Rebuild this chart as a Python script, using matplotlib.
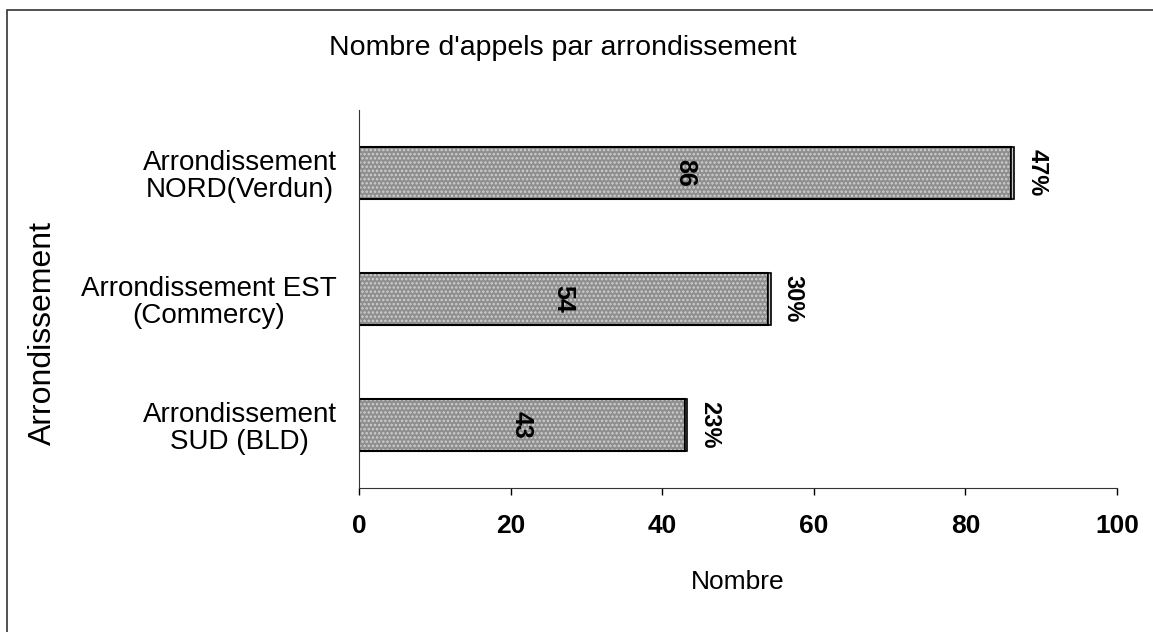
import numpy as np
import matplotlib.pyplot as plt
from matplotlib.patches import Rectangle

plt.rcParams['font.family'] = ['Liberation Sans', 'DejaVu Sans']
plt.rcParams['hatch.linewidth'] = 1.2

# data (bottom to top, as drawn)
categories = ['Arrondissement\nSUD (BLD)', 'Arrondissement EST\n(Commercy)', 'Arrondissement\nNORD(Verdun)']
counts = [43, 54, 86]
shares = [0.23, 0.30, 0.47]
share_labels = ['23%', '30%', '47%']

fig = plt.figure(figsize=(11.53, 6.32), dpi=100)
ax = fig.add_axes([0.3114, 0.2278, 0.6574, 0.598])

y = np.arange(len(categories))
h = 0.41
# textured fill
ax.barh(y, counts, height=h, color='#8e8e8e', hatch='....', edgecolor='#d0d0d0', linewidth=0)
ax.barh(y, counts, height=h, fill=False, edgecolor='black', linewidth=1.5)
ax.barh(y, shares, left=counts, height=h, color='#c8c8c8', edgecolor='black', linewidth=1.2)

for i in range(len(counts)):
    ax.text(counts[i] / 2, y[i], str(counts[i]), rotation=-90, ha='center', va='center',
            fontsize=18, fontweight='bold', color='black')
    ax.annotate(share_labels[i], (counts[i] + shares[i], y[i]), xytext=(8, 0),
                textcoords='offset points', rotation=-90, ha='left', va='center',
                fontsize=17, fontweight='bold')

ax.set_xlim(0, 100)
ax.set_ylim(-0.5, 2.5)
ax.set_xticks([0, 20, 40, 60, 80, 100])
ax.tick_params(axis='x', direction='out', length=5, width=1, pad=14, labelsize=19)
for t in ax.get_xticklabels():
    t.set_fontweight('bold')
ax.set_yticks(y)
ax.set_yticklabels(categories, fontsize=20, multialignment='center', linespacing=1.05)
ax.tick_params(axis='y', length=0, pad=16)
ax.spines['top'].set_visible(False)
ax.spines['right'].set_visible(False)
ax.spines['left'].set_color('#333333')
ax.spines['bottom'].set_color('#333333')

fig.text(0.488, 0.924, "Nombre d'appels par arrondissement", ha='center', va='center', fontsize=20.5)
fig.text(0.64, 0.079, 'Nombre', ha='center', va='center', fontsize=19)
fig.text(0.037, 0.473, 'Arrondissement', ha='center', va='center', rotation=90, fontsize=23)

fig.patches.append(Rectangle((7 / 1153, -0.02), 1.0, 1.004, transform=fig.transFigure,
                             fill=False, edgecolor='#333333', linewidth=1.2))

fig.savefig('out.png', dpi=100)
